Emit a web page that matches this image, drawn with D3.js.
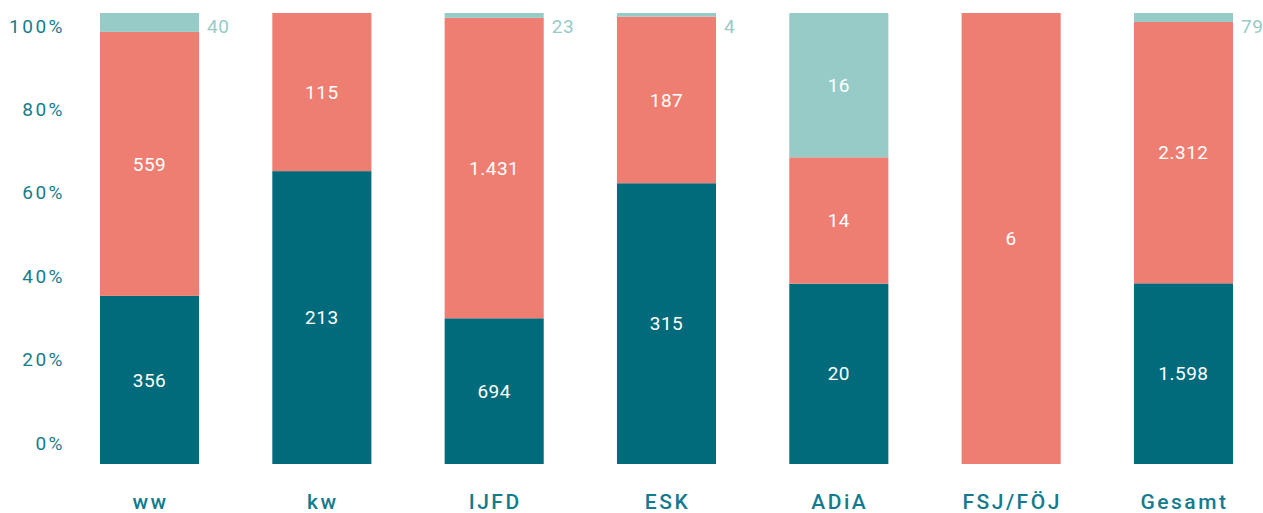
<!DOCTYPE html>
<html>
<head>
<meta charset="utf-8">
<script src="https://cdn.jsdelivr.net/npm/d3@7"></script>
<style>
  body { margin: 0; background: #fff; }
  svg { display: block; font-family: Roboto, "DejaVu Sans", sans-serif; }
</style>
</head>
<body>
<svg id="chart" width="1263" height="513"></svg>
<script>
// chart data
const categories = ["ww", "kw", "IJFD", "ESK", "ADiA", "FSJ/FÖJ", "Gesamt"];
const darkValues = [356, 213, 694, 315, 20, 0, 1598];
const salmonValues = [559, 115, 1431, 187, 14, 6, 2312];
const lightValues = [40, 0, 23, 4, 16, 0, 79];
const tickLabels = [0, 20, 40, 60, 80, 100];

const seriesKeys = ["dark", "salmon", "light"];
const colors = { dark: "#016b7c", salmon: "#ee7e72", light: "#96cbc8" };

const rows = categories.map((c, i) => ({
  cat: c, dark: darkValues[i], salmon: salmonValues[i], light: lightValues[i]
}));

const svg = d3.select("#chart");

const x = d3.scaleBand()
  .domain(categories)
  .range([100, 1233])
  .paddingInner(0.425)
  .paddingOuter(0);

// bars span the plot area
const y = d3.scaleLinear().domain([0, 1]).range([464, 13]);
// the percent labels sit on their own scale
const yLabel = d3.scaleLinear().domain([0, 100]).range([443, 26]);

const stack = d3.stack()
  .keys(seriesKeys)
  .offset(d3.stackOffsetExpand);
const layers = stack(rows);

const g = svg.append("g");

layers.forEach(layer => {
  const key = layer.key;
  g.selectAll(".bar-" + key)
    .data(layer.filter(d => d[1] - d[0] > 0))
    .enter()
    .append("rect")
    .attr("class", "bar-" + key)
    .attr("x", d => x(d.data.cat))
    .attr("width", x.bandwidth())
    .attr("y", d => y(d[1]))
    .attr("height", d => y(d[0]) - y(d[1]))
    .attr("fill", colors[key]);

  layer.forEach(d => {
    const v = d.data[key];
    if (!v) return;
    const h = y(d[0]) - y(d[1]);
    const label = d3.format(",")(v).replace(/,/g, ".");
    if (h > 30) {
      g.append("text")
        .attr("x", x(d.data.cat) + x.bandwidth() / 2)
        .attr("y", (y(d[0]) + y(d[1])) / 2)
        .attr("dy", "0.35em")
        .attr("text-anchor", "middle")
        .attr("fill", "#fff")
        .attr("font-size", 19)
        .style("letter-spacing", "0.5px")
        .text(label);
    } else {
      // small segment: label to the right of the bar
      g.append("text")
        .attr("x", x(d.data.cat) + x.bandwidth() + 8)
        .attr("y", y(d[1]) + 13)
        .attr("dy", "0.35em")
        .attr("text-anchor", "start")
        .attr("fill", colors[key])
        .attr("font-size", 19)
        .style("letter-spacing", "0.5px")
        .text(label);
    }
  });
});

// percent labels
svg.append("g")
  .selectAll("text")
  .data(tickLabels)
  .enter()
  .append("text")
  .attr("x", 65)
  .attr("y", d => yLabel(d))
  .attr("dy", "0.35em")
  .attr("text-anchor", "end")
  .attr("fill", "#157c8c")
  .attr("font-size", 19)
  .style("letter-spacing", "2.5px")
  .text(d => d + "%");

// category labels
svg.append("g")
  .selectAll("text")
  .data(categories)
  .enter()
  .append("text")
  .attr("x", d => x(d) + x.bandwidth() / 2 + 1)
  .attr("y", 502)
  .attr("dy", "0.35em")
  .attr("text-anchor", "middle")
  .attr("fill", "#137b8d")
  .attr("font-size", 21)
  .attr("font-weight", 500)
  .style("letter-spacing", "2.5px")
  .text(d => d);
</script>
</body>
</html>
